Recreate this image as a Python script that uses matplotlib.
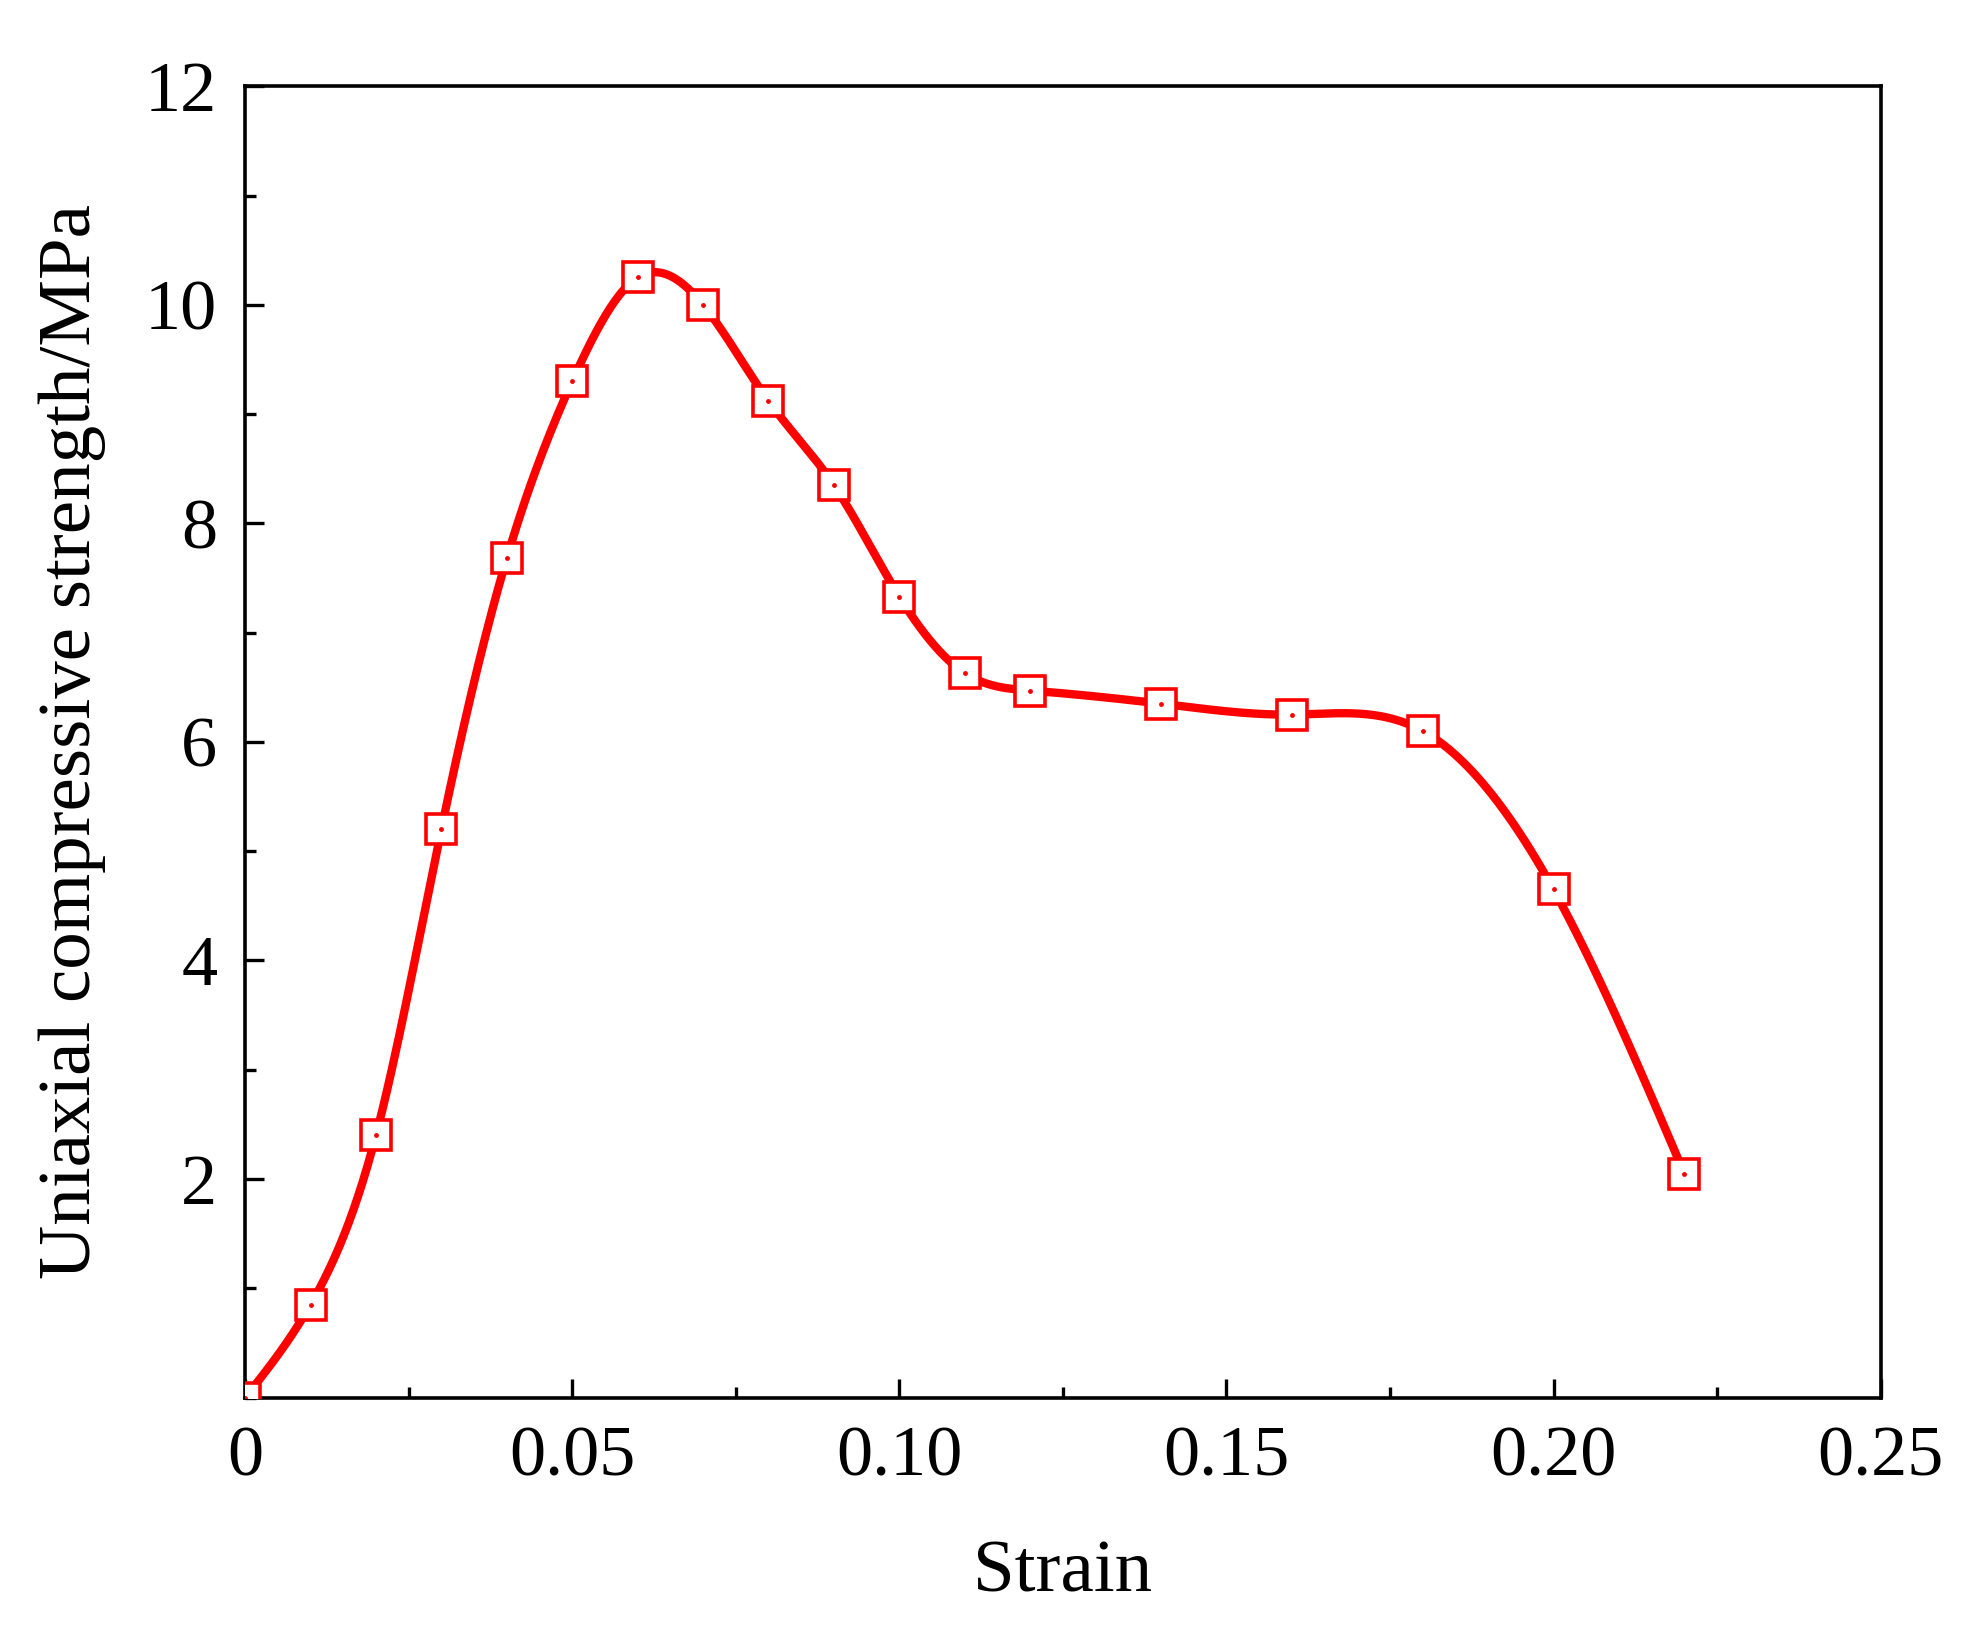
import numpy as np
import matplotlib
matplotlib.use("Agg")
import matplotlib.pyplot as plt
from matplotlib.ticker import MultipleLocator, FixedLocator

strain = [0, 0.01, 0.02, 0.03, 0.04, 0.05, 0.06, 0.07, 0.08, 0.09, 0.10, 0.11, 0.12, 0.14, 0.16, 0.18, 0.20, 0.22]
stress = [0, 0.85, 2.4, 5.2, 7.68, 9.3, 10.25, 10.0, 9.12, 8.35, 7.33, 6.63, 6.47, 6.35, 6.25, 6.1, 4.65, 2.05]

def natural_spline(x, y, xs):
    x = np.asarray(x, float); y = np.asarray(y, float)
    n = len(x); h = np.diff(x)
    A = np.zeros((n, n)); b = np.zeros(n)
    A[0, 0] = A[-1, -1] = 1
    for i in range(1, n - 1):
        A[i, i-1] = h[i-1]; A[i, i] = 2*(h[i-1]+h[i]); A[i, i+1] = h[i]
        b[i] = 3*((y[i+1]-y[i])/h[i] - (y[i]-y[i-1])/h[i-1])
    c = np.linalg.solve(A, b)
    bb = (y[1:]-y[:-1])/h - h*(2*c[:-1]+c[1:])/3
    d = (c[1:]-c[:-1])/(3*h)
    idx = np.clip(np.searchsorted(x, xs) - 1, 0, n-2)
    t = xs - x[idx]
    return y[idx] + bb[idx]*t + c[idx]*t**2 + d[idx]*t**3

plt.rcParams['font.family'] = ['Liberation Serif', 'DejaVu Serif']
plt.rcParams['mathtext.fontset'] = 'stix'
fig = plt.figure(figsize=(9.805, 8.135), dpi=200)
ax = fig.add_axes([0.125, 0.141, 0.834, 0.806])
xs = np.linspace(0, 0.22, 600)
ax.plot(xs, natural_spline(strain, stress, xs), color='#ff0000', lw=3, zorder=2)
ax.plot(strain, stress, ls='none', marker='s', ms=11, mfc='white', mec='#ff0000', mew=1.3, zorder=3)
ax.plot(strain, stress, ls='none', marker='.', ms=1.5, color='#ff0000', zorder=4)
ax.set_xlim(0, 0.25); ax.set_ylim(0, 12)
ax.xaxis.set_major_locator(FixedLocator([0, 0.05, 0.10, 0.15, 0.20, 0.25]))
ax.set_xticklabels(['0', '0.05', '0.10', '0.15', '0.20', '0.25'])
ax.xaxis.set_minor_locator(MultipleLocator(0.025))
ax.yaxis.set_major_locator(FixedLocator([2, 4, 6, 8, 10, 12]))
ax.yaxis.set_minor_locator(MultipleLocator(1))
ax.tick_params(which='both', direction='in', top=False, right=False, labelsize=26, width=1.2, pad=10)
ax.tick_params(which='major', length=7)
ax.tick_params(which='minor', length=4)
for s in ax.spines.values():
    s.set_linewidth(1.3)
ax.set_xlabel('Strain', fontsize=27, labelpad=18)
ax.set_ylabel('Uniaxial compressive strength/MPa', fontsize=27, labelpad=14)
fig.savefig('out.png', dpi=200)
